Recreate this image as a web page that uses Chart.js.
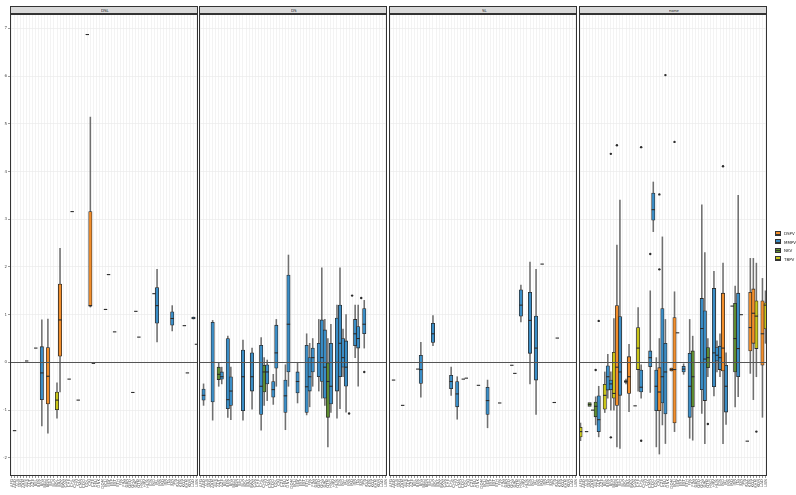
<!DOCTYPE html>
<html>
<head>
<meta charset="utf-8">
<script src="https://cdn.jsdelivr.net/npm/chart.js@4.4.1/dist/chart.umd.min.js"></script>
<style>
  html, body { margin: 0; padding: 0; background: #fff; }
  body { width: 796px; height: 495px; position: relative; overflow: hidden; font-family: 'DejaVu Sans', sans-serif; }
  .panel { position: absolute; top: 14px; }
  .strip { position: absolute; top: 6px; height: 8px; box-sizing: border-box; background: #d9d9d9; border: 0.8px solid #333; }
  .strip span, .legend span { position: absolute; font-size: 8px; color: #1a1a1a; transform-origin: 0 0; transform: scale(0.5); white-space: nowrap; }
  .frame { position: absolute; top: 14px; height: 462px; box-sizing: border-box; border: 1px solid #333; pointer-events: none; }
  .key { position: absolute; left: 775px; width: 6px; height: 5px; box-sizing: border-box; border: 0.7px solid #333; }
  .key i { position: absolute; left: 0; right: 0; top: 1.6px; height: 0.7px; background: #333; }
</style>
</head>
<body>
<script>
// Country codes along every facet's x axis
const categories = ['AFG','AGO','ALB','ARG','ARM','AUS','AUT','AZE','BEL','BEN','BFA','BGD','BGR','BIH','BLR','BOL',
  'BRA','BWA','CAN','CHE','CHL','CHN','CIV','CMR','COD','COL','CRI','CZE','DEU','DNK','DOM','ECU','EGY','ESP','EST',
  'ETH','FIN','FRA','GBR','GEO','GHA','GRC','GTM','HND','HRV','HUN','IDN','IND','IRL','IRN','IRQ','ISR','ITA','JOR',
  'JPN','KAZ','KEN','KGZ','KHM','KOR','LAO','LBN'];
const variants = ['DSPV', 'MMPV', 'NKV', 'TBPV'];
const variantColours = { DSPV: '#F28E2B', MMPV: '#3A8DC6', NKV: '#5E8C31', TBPV: '#C9C51A' };
const facetNames = ['DSL', 'DS', 'SL', 'none'];
const yTicks = [-2, -1, 0, 1, 2, 3, 4, 5, 6, 7];

// Boxes: [category index, variant, lower whisker, q1, median, q3, upper whisker]
// Singles: [category index, value]   Outliers: [category index, value]
const dslBoxes = [
  [10, 'MMPV', -1.33, -0.78, -0.22, 0.33, 0.89],
  [12, 'DSPV', -1.48, -0.87, -0.29, 0.31, 0.91],
  [15, 'TBPV', -1.17, -0.99, -0.79, -0.62, -0.43],
  [16, 'DSPV', -0.62, 0.13, 0.89, 1.64, 2.39],
  [26, 'DSPV', 1.16, 1.18, 1.19, 3.16, 5.14],
  [48, 'MMPV', 0.43, 0.82, 1.19, 1.57, 1.95],
  [53, 'MMPV', 0.66, 0.78, 0.92, 1.06, 1.19],
  [60, 'MMPV', 0.91, 0.91, 0.93, 0.95, 0.95]
];
const dslSingles = [[1, -1.43], [5, 0.03], [8, 0.30], [19, -0.35], [20, 3.16], [22, -0.79], [25, 6.87], [27, -0.02],
  [31, 1.11], [32, 1.84], [34, 0.64], [40, -0.63], [41, 1.07], [42, 0.53], [47, 1.44], [57, 0.77], [58, -0.22], [61, 0.38]];
const dslOutliers = [];

const dsBoxes = [
  [1, 'MMPV', -0.9, -0.79, -0.69, -0.56, -0.45],
  [4, 'MMPV', -1.21, -0.83, 0.0, 0.84, 0.88],
  [6, 'NKV', -0.5, -0.36, -0.25, -0.1, 0.0],
  [7, 'MMPV', -0.45, -0.35, -0.3, -0.2, -0.1],
  [9, 'MMPV', -1.15, -0.97, -0.78, 0.5, 0.55],
  [10, 'MMPV', -1.2, -0.9, -0.6, -0.3, -0.1],
  [14, 'MMPV', -1.21, -1.01, -0.3, 0.26, 0.47],
  [17, 'MMPV', -0.98, -0.6, -0.3, 0.2, 0.3],
  [20, 'MMPV', -1.42, -1.09, -0.5, 0.36, 0.52],
  [21, 'NKV', -0.9, -0.62, -0.2, -0.06, 0.1],
  [22, 'MMPV', -0.8, -0.45, -0.2, -0.05, 0.05],
  [24, 'MMPV', -0.88, -0.73, -0.57, -0.4, -0.25],
  [25, 'MMPV', -0.5, -0.12, 0.2, 0.78, 0.9],
  [28, 'MMPV', -1.41, -1.05, -0.7, -0.37, -0.05],
  [29, 'MMPV', -0.5, -0.2, 0.8, 1.83, 2.25],
  [32, 'MMPV', -0.85, -0.64, -0.4, -0.2, 0.0],
  [35, 'MMPV', -1.1, -1.05, -0.51, 0.36, 0.6],
  [36, 'MMPV', -0.93, -0.6, -0.3, 0.1, 0.4],
  [37, 'MMPV', -0.5, -0.2, 0.1, 0.3, 0.5],
  [39, 'MMPV', -0.6, -0.3, 0.0, 0.4, 0.9],
  [40, 'MMPV', -0.75, -0.4, 0.1, 0.89, 1.98],
  [41, 'MMPV', -0.9, -0.75, -0.1, 0.68, 0.9],
  [42, 'NKV', -1.77, -1.15, -0.4, 0.0, 0.5],
  [43, 'MMPV', -1.05, -0.87, -0.5, 0.4, 0.8],
  [45, 'MMPV', -1.17, -0.6, 0.0, 0.93, 1.2],
  [46, 'MMPV', -0.97, -0.3, 0.4, 1.2, 1.98],
  [47, 'MMPV', -0.3, -0.1, 0.1, 0.5, 0.7],
  [48, 'MMPV', -1.04, -0.5, -0.1, 0.45, 1.0],
  [51, 'MMPV', 0.1, 0.35, 0.6, 0.9, 1.2],
  [52, 'MMPV', -0.5, 0.3, 0.5, 0.75, 1.2],
  [54, 'MMPV', 0.3, 0.6, 0.8, 1.13, 1.3]
];
const dsSingles = [];
const dsOutliers = [[49, -1.07], [50, 1.4], [53, 1.35], [54, -0.2]];

const slBoxes = [
  [10, 'MMPV', -0.73, -0.44, -0.15, 0.15, 0.42],
  [14, 'MMPV', 0.35, 0.42, 0.6, 0.82, 0.98],
  [20, 'MMPV', -0.69, -0.55, -0.4, -0.27, -0.1],
  [22, 'MMPV', -1.19, -0.93, -0.66, -0.4, -0.3],
  [32, 'MMPV', -1.37, -1.09, -0.8, -0.52, -0.37],
  [43, 'MMPV', 0.85, 0.97, 1.2, 1.52, 1.62],
  [46, 'MMPV', -0.45, 0.19, 0.88, 1.47, 2.1],
  [48, 'MMPV', -1.09, -0.37, 0.3, 0.97, 1.95]
];
const slSingles = [[1, -0.37], [4, -0.9], [9, -0.14], [24, -0.35], [25, -0.33], [29, -0.48], [36, -0.85],
  [40, -0.06], [41, -0.23], [50, 2.06], [54, -0.84], [55, 0.51]];
const slOutliers = [];

const noneBoxes = [
  [0, 'TBPV', -1.64, -1.56, -1.45, -1.36, -1.27],
  [3, 'NKV', -0.88, -0.92, -0.88, -0.84, -0.88],
  [5, 'NKV', -1.31, -1.14, -0.92, -0.83, -0.72],
  [6, 'MMPV', -1.56, -1.45, -1.2, -0.7, -0.5],
  [8, 'TBPV', -1.05, -0.98, -0.69, -0.46, -0.2],
  [9, 'MMPV', -0.75, -0.58, -0.3, -0.07, 0.17],
  [10, 'MMPV', -1.0, -0.57, -0.45, -0.37, -0.2],
  [11, 'TBPV', -1.0, -0.75, -0.65, 0.21, 0.92],
  [12, 'DSPV', -1.77, -0.9, -0.1, 1.19, 2.46],
  [13, 'MMPV', -1.8, -0.69, -0.2, 0.96, 3.4],
  [15, 'DSPV', -0.45, -0.42, -0.4, -0.38, -0.35],
  [16, 'DSPV', -1.03, -0.65, -0.3, 0.12, 0.38],
  [19, 'TBPV', -0.6, -0.15, 0.3, 0.73, 1.15],
  [20, 'MMPV', -0.75, -0.62, -0.52, -0.16, -0.05],
  [23, 'MMPV', -0.63, -0.09, 0.1, 0.24, 1.5],
  [24, 'MMPV', 2.74, 2.98, 3.2, 3.55, 3.78],
  [25, 'MMPV', -1.77, -1.01, -0.5, -0.16, 0.1],
  [26, 'DSPV', -1.92, -1.01, -0.62, -0.11, 0.5],
  [27, 'MMPV', -1.31, -0.85, -0.3, 1.13, 2.63],
  [28, 'MMPV', -1.7, -1.08, -0.2, 0.4, 0.9],
  [30, 'DSPV', -0.18, -0.18, -0.15, -0.12, -0.12],
  [31, 'DSPV', -1.45, -1.27, -0.15, 0.94, 1.48],
  [34, 'MMPV', -0.25, -0.2, -0.14, -0.08, -0.03],
  [36, 'MMPV', -1.59, -1.15, -0.5, 0.19, 0.9],
  [37, 'NKV', -1.63, -0.93, -0.3, 0.24, 0.55],
  [40, 'MMPV', -1.07, -0.57, 0.71, 1.34, 3.3],
  [41, 'MMPV', -1.7, -0.8, 0.07, 1.08, 2.3],
  [42, 'NKV', -0.3, -0.11, 0.1, 0.31, 0.5],
  [44, 'MMPV', -0.7, -0.51, 0.2, 1.55, 1.91],
  [45, 'MMPV', -0.2, 0.03, 0.15, 0.31, 0.45],
  [46, 'MMPV', -0.3, -0.15, 0.1, 0.34, 0.6],
  [47, 'DSPV', -1.7, -0.18, 0.3, 1.45, 2.08],
  [48, 'MMPV', -1.3, -1.04, -0.5, -0.06, 0.2],
  [51, 'NKV', -0.93, -0.2, 0.5, 1.24, 1.6],
  [52, 'MMPV', -0.72, -0.3, 0.29, 1.45, 3.5],
  [56, 'DSPV', -0.23, 0.24, 0.73, 1.47, 2.18],
  [57, 'DSPV', -0.78, 0.4, 1.03, 1.54, 2.18],
  [58, 'TBPV', -0.3, 0.29, 0.97, 1.29, 2.08],
  [60, 'DSPV', -1.15, -0.06, 0.6, 1.29, 1.76],
  [61, 'TBPV', 0.4, 0.7, 1.2, 1.25, 1.5]
];
const noneSingles = [[2, -1.45], [4, -1.0], [18, -0.91], [32, 0.62], [50, 1.18], [53, 1.0], [55, -1.65]];
const noneOutliers = [[5, -0.16], [6, 0.87], [10, 4.37], [10, -1.57], [12, 4.55], [20, 4.51], [20, -1.64], [23, 2.27],
  [26, 1.95], [26, 3.52], [28, 6.02], [31, 4.62], [42, -1.29], [47, 4.11], [58, -1.45]];

const facets = [
  { boxes: dslBoxes, singles: dslSingles, outliers: dslOutliers },
  { boxes: dsBoxes, singles: dsSingles, outliers: dsOutliers },
  { boxes: slBoxes, singles: slSingles, outliers: slOutliers },
  { boxes: noneBoxes, singles: noneSingles, outliers: noneOutliers }
];

// Page geometry of the four panels
const panelLeft = [10, 199, 389, 579];
const panelWidth = 188;
const panelTop = 14, panelHeight = 462, axisHeight = 19;
const yMin = -2.38, yMax = 7.30;

const ink = '#2b2b2b';

// Reference line at zero, drawn over the boxes
const zeroLine = {
  id: 'zeroLine',
  afterDatasetsDraw(chart) {
    const { ctx, chartArea, scales } = chart;
    const y = Math.round(scales.y.getPixelForValue(0)) + 0.5;
    ctx.save();
    ctx.strokeStyle = '#555';
    ctx.lineWidth = 1;
    ctx.beginPath();
    ctx.moveTo(chartArea.left, y);
    ctx.lineTo(chartArea.right, y);
    ctx.stroke();
    ctx.restore();
  }
};

function buildDatasets(f) {
  const cat = i => categories[i];
  const sets = [];
  sets.push({
    type: 'bar', order: 10, grouped: false, barThickness: 0.9,
    backgroundColor: '#6f6f6f',
    data: f.boxes.filter(b => b[6] > b[2]).map(b => ({ x: cat(b[0]), y: [b[2], b[6]] }))
  });
  variants.forEach(v => {
    sets.push({
      type: 'bar', order: 5, grouped: false, barThickness: 3.4,
      backgroundColor: variantColours[v], borderColor: ink, borderWidth: 0.8, borderSkipped: false,
      data: f.boxes.filter(b => b[1] === v && b[5] > b[3]).map(b => ({ x: cat(b[0]), y: [b[3], b[5]] }))
    });
  });
  sets.push({
    type: 'line', order: 2, showLine: false,
    pointStyle: 'line', pointRadius: 1.7, pointBorderColor: ink, pointBorderWidth: 1.1,
    data: f.boxes.map(b => ({ x: cat(b[0]), y: b[4] })).concat(f.singles.map(s => ({ x: cat(s[0]), y: s[1] })))
  });
  sets.push({
    type: 'line', order: 1, showLine: false,
    pointStyle: 'circle', pointRadius: 1.2, pointBackgroundColor: ink, pointBorderColor: ink, pointBorderWidth: 0,
    data: f.outliers.map(o => ({ x: cat(o[0]), y: o[1] }))
  });
  return sets;
}

facets.forEach((f, k) => {
  const first = k === 0;
  const yW = first ? panelLeft[0] : 0;
  const wrap = document.createElement('div');
  wrap.className = 'panel';
  wrap.style.left = (panelLeft[k] - yW) + 'px';
  const canvas = document.createElement('canvas');
  canvas.width = panelWidth + yW;
  canvas.height = panelHeight + axisHeight;
  canvas.style.width = canvas.width + 'px';
  canvas.style.height = canvas.height + 'px';
  wrap.appendChild(canvas);
  document.body.appendChild(wrap);

  new Chart(canvas, {
    type: 'bar',
    data: { labels: categories, datasets: buildDatasets(f) },
    plugins: [zeroLine],
    options: {
      responsive: false, animation: false, devicePixelRatio: 1, events: [],
      layout: { padding: 0, autoPadding: false },
      plugins: { legend: { display: false }, tooltip: { enabled: false } },
      scales: {
        x: {
          type: 'category', offset: true,
          grid: { offset: false, color: '#ebebeb', lineWidth: 0.6, tickLength: 2, tickColor: '#333', tickWidth: 0.5 },
          border: { display: false },
          ticks: { autoSkip: false, maxRotation: 90, minRotation: 90, padding: 1, color: '#4d4d4d',
                   font: { family: 'DejaVu Sans', size: 4 } },
          afterFit: s => { s.height = axisHeight; s.paddingLeft = 0; s.paddingRight = 0; }
        },
        y: {
          min: yMin, max: yMax,
          afterBuildTicks: s => { s.ticks = yTicks.map(v => ({ value: v })); },
          grid: { color: '#ebebeb', lineWidth: 0.7, drawTicks: first, tickLength: 2, tickColor: '#333', tickWidth: 0.5 },
          border: { display: false },
          ticks: { display: first, padding: 1, color: '#4d4d4d', font: { family: 'DejaVu Sans', size: 4 } },
          afterFit: s => { s.width = yW; s.paddingTop = 0; s.paddingBottom = 0; }
        }
      }
    }
  });

  const strip = document.createElement('div');
  strip.className = 'strip';
  strip.style.left = panelLeft[k] + 'px';
  strip.style.width = panelWidth + 'px';
  const st = document.createElement('span');
  st.textContent = facetNames[k];
  strip.appendChild(st);
  document.body.appendChild(strip);
  st.style.left = (panelWidth / 2 - st.offsetWidth / 4) + 'px';
  st.style.top = '1.2px';

  const frame = document.createElement('div');
  frame.className = 'frame';
  frame.style.left = panelLeft[k] + 'px';
  frame.style.width = panelWidth + 'px';
  document.body.appendChild(frame);
});

// Legend for the variant fill colours
const legend = document.createElement('div');
legend.className = 'legend';
variants.forEach((v, i) => {
  const top = 231 + i * 8.4;
  const key = document.createElement('div');
  key.className = 'key';
  key.style.top = top + 'px';
  key.style.background = variantColours[v];
  key.appendChild(document.createElement('i'));
  legend.appendChild(key);
  const lab = document.createElement('span');
  lab.textContent = v;
  lab.style.left = '784px';
  lab.style.top = (top + 0.3) + 'px';
  legend.appendChild(lab);
});
document.body.appendChild(legend);
</script>
</body>
</html>
